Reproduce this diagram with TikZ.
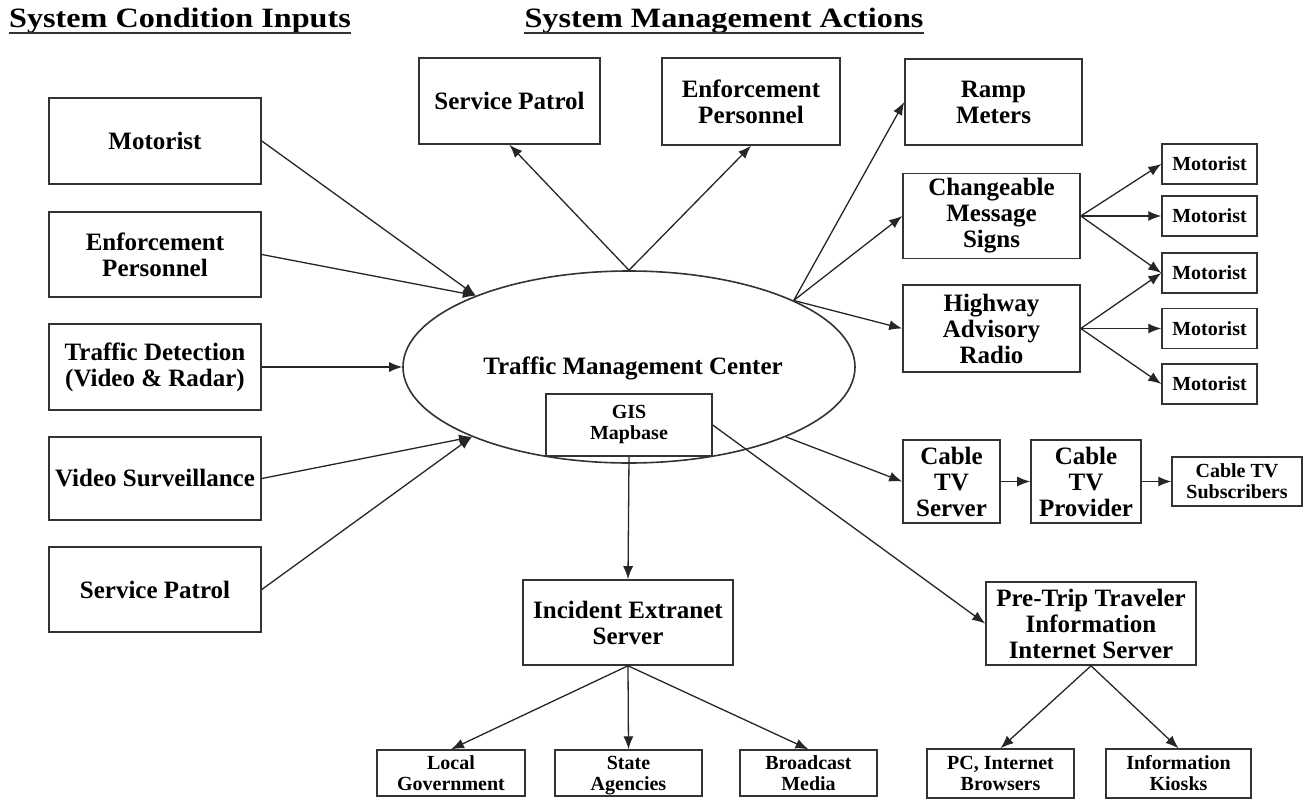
\documentclass[tikz,border=0pt]{standalone}
\usepackage{fontspec}
\setmainfont{Liberation Serif}
\newfontfamily\hdrfont[FakeStretch=1.15]{Liberation Serif}
\usetikzlibrary{shapes.geometric,arrows.meta}
\begin{document}
\begin{tikzpicture}[x=1pt,y=-1pt,
  box/.style={draw=black!80, line width=1.6pt, fill=white, inner sep=0pt, align=center,
              font=\bfseries\fontsize{25}{26}\selectfont},
  sbox/.style={box, line width=1.4pt, font=\bfseries\fontsize{20}{21}\selectfont},
  hdr/.style={inner sep=0pt, font=\hdrfont\bfseries\fontsize{28}{30}\selectfont},
  uline/.style={draw=black!80, line width=1.8pt},
  arr/.style={draw=black!85, line width=1.3pt, -{Latex[length=13pt,width=10pt]}}]
\fill[white] (0,0) rectangle (1304,800);
\useasboundingbox (0,0) rectangle (1304,800);

% headers
\node[hdr, anchor=base] (hL) at (180,28) {System Condition Inputs};
\node[hdr, anchor=base] (hR) at (724,28) {System Management Actions};
\draw[uline] ([yshift=-5pt]hL.base west) -- ([yshift=-5pt]hL.base east);
\draw[uline] ([yshift=-5pt]hR.base west) -- ([yshift=-5pt]hR.base east);

% central ellipse
\node[ellipse, draw=black!80, line width=1.6pt, minimum width=452pt, minimum height=192pt,
      inner sep=0pt] (tmc) at (629,367) {};
\node[inner sep=0pt, font=\bfseries\fontsize{25}{26}\selectfont] (tmct) at (633,368) {Traffic Management Center};
\node[sbox, minimum width=166pt, minimum height=62pt] (gis) at (629,425) {GIS\\Mapbase};

% left input boxes
\node[box, minimum width=212pt, minimum height=86pt] (L1) at (155,141) {Motorist};
\node[box, minimum width=212pt, minimum height=85pt] (L2) at (155,254.5) {Enforcement\\Personnel};
\node[box, minimum width=212pt, minimum height=86pt] (L3) at (155,367) {Traffic Detection\\(Video \& Radar)};
\node[box, minimum width=212pt, minimum height=83pt] (L4) at (155,478.5) {Video Surveillance};
\node[box, minimum width=212pt, minimum height=85pt] (L5) at (155,589.5) {Service Patrol};

% top action boxes
\node[box, minimum width=181pt, minimum height=86pt] (T1) at (509.5,101) {Service Patrol};
\node[box, minimum width=178pt, minimum height=87pt] (T2) at (751,101.5) {Enforcement\\Personnel};

% right action boxes
\node[box, minimum width=177pt, minimum height=86pt] (R1) at (993.5,102) {Ramp\\Meters};
\node[box, minimum width=177pt, minimum height=85pt] (R2) at (991.5,216) {Changeable\\Message\\Signs};
\node[box, minimum width=177pt, minimum height=87pt] (R3) at (991.5,328.5) {Highway\\Advisory\\Radio};

\node[sbox, minimum width=95pt, minimum height=40pt] (M1) at (1209.5,164) {Motorist};
\node[sbox, minimum width=95pt, minimum height=40pt] (M2) at (1209.5,216) {Motorist};
\node[sbox, minimum width=95pt, minimum height=40pt] (M3) at (1209.5,273) {Motorist};
\node[sbox, minimum width=95pt, minimum height=40pt] (M4) at (1209.5,328.5) {Motorist};
\node[sbox, minimum width=95pt, minimum height=40pt] (M5) at (1209.5,384) {Motorist};

% cable TV chain
\node[box, minimum width=97pt, minimum height=83pt] (CS) at (951.5,481.5) {Cable\\TV\\Server};
\node[box, minimum width=110pt, minimum height=83pt] (CP) at (1086,481.5) {Cable\\TV\\Provider};
\node[sbox, minimum width=130pt, minimum height=49pt] (CSub) at (1237,481.5) {Cable TV\\Subscribers};

% pre-trip
\node[box, minimum width=210pt, minimum height=83pt] (PT) at (1091,623.5) {Pre-Trip Traveler\\Information\\Internet Server};
\node[sbox, minimum width=147pt, minimum height=49pt] (PC) at (1000.5,773.5) {PC, Internet\\Browsers};
\node[sbox, minimum width=145pt, minimum height=49pt] (IK) at (1178.5,773.5) {Information\\Kiosks};

% incident extranet
\node[box, minimum width=210pt, minimum height=85pt] (IE) at (628,622.5) {Incident Extranet\\Server};
\node[sbox, minimum width=148pt, minimum height=46pt] (LG) at (451,773) {Local\\Government};
\node[sbox, minimum width=147pt, minimum height=46pt] (SA) at (628.5,773) {State\\\smash{Agencies}};
\node[sbox, minimum width=137pt, minimum height=46pt] (BM) at (808.5,773) {Broadcast\\Media};

% inputs
\draw[arr] (L1.east) -- (tmc.155.5);
\draw[arr] (L2.east) -- (tmc.155.5);
\draw[arr] (L3.east) -- (tmc.west);
\draw[arr] (L4.east) -- (tmc.204);
\draw[arr] (L5.east) -- (tmc.204);

% outputs top
\draw[arr] (tmc.north) -- (T1.south);
\draw[arr] (tmc.north) -- (T2.south);

% outputs right
\draw[arr] (tmc.22.6) -- (R1.west);
\draw[arr] (tmc.22.6) -- (R2.west);
\draw[arr] (tmc.22.6) -- (R3.west);

\draw[arr] (R2.east) -- (M1.west);
\draw[arr] (R2.east) -- (M2.west);
\draw[arr] (R2.east) -- (M3.west);
\draw[arr] (R3.east) -- (M3.west);
\draw[arr] (R3.east) -- (M4.west);
\draw[arr] (R3.east) -- (M5.west);

% cable chain
\draw[arr] (tmc.336.2) -- (CS.west);
\draw[arr] (CS.east) -- (CP.west);
\draw[arr] (CP.east) -- (CSub.west);

% GIS links
\draw[arr] (gis.east) -- (PT.west);
\draw[arr] (gis.south) -- (IE.north);

\draw[arr] (IE.south) -- (LG.north);
\draw[arr] (IE.south) -- (SA.north);
\draw[arr] (IE.south) -- (BM.north);

\draw[arr] (PT.south) -- (PC.north);
\draw[arr] (PT.south) -- (IK.north);
\end{tikzpicture}
\end{document}
